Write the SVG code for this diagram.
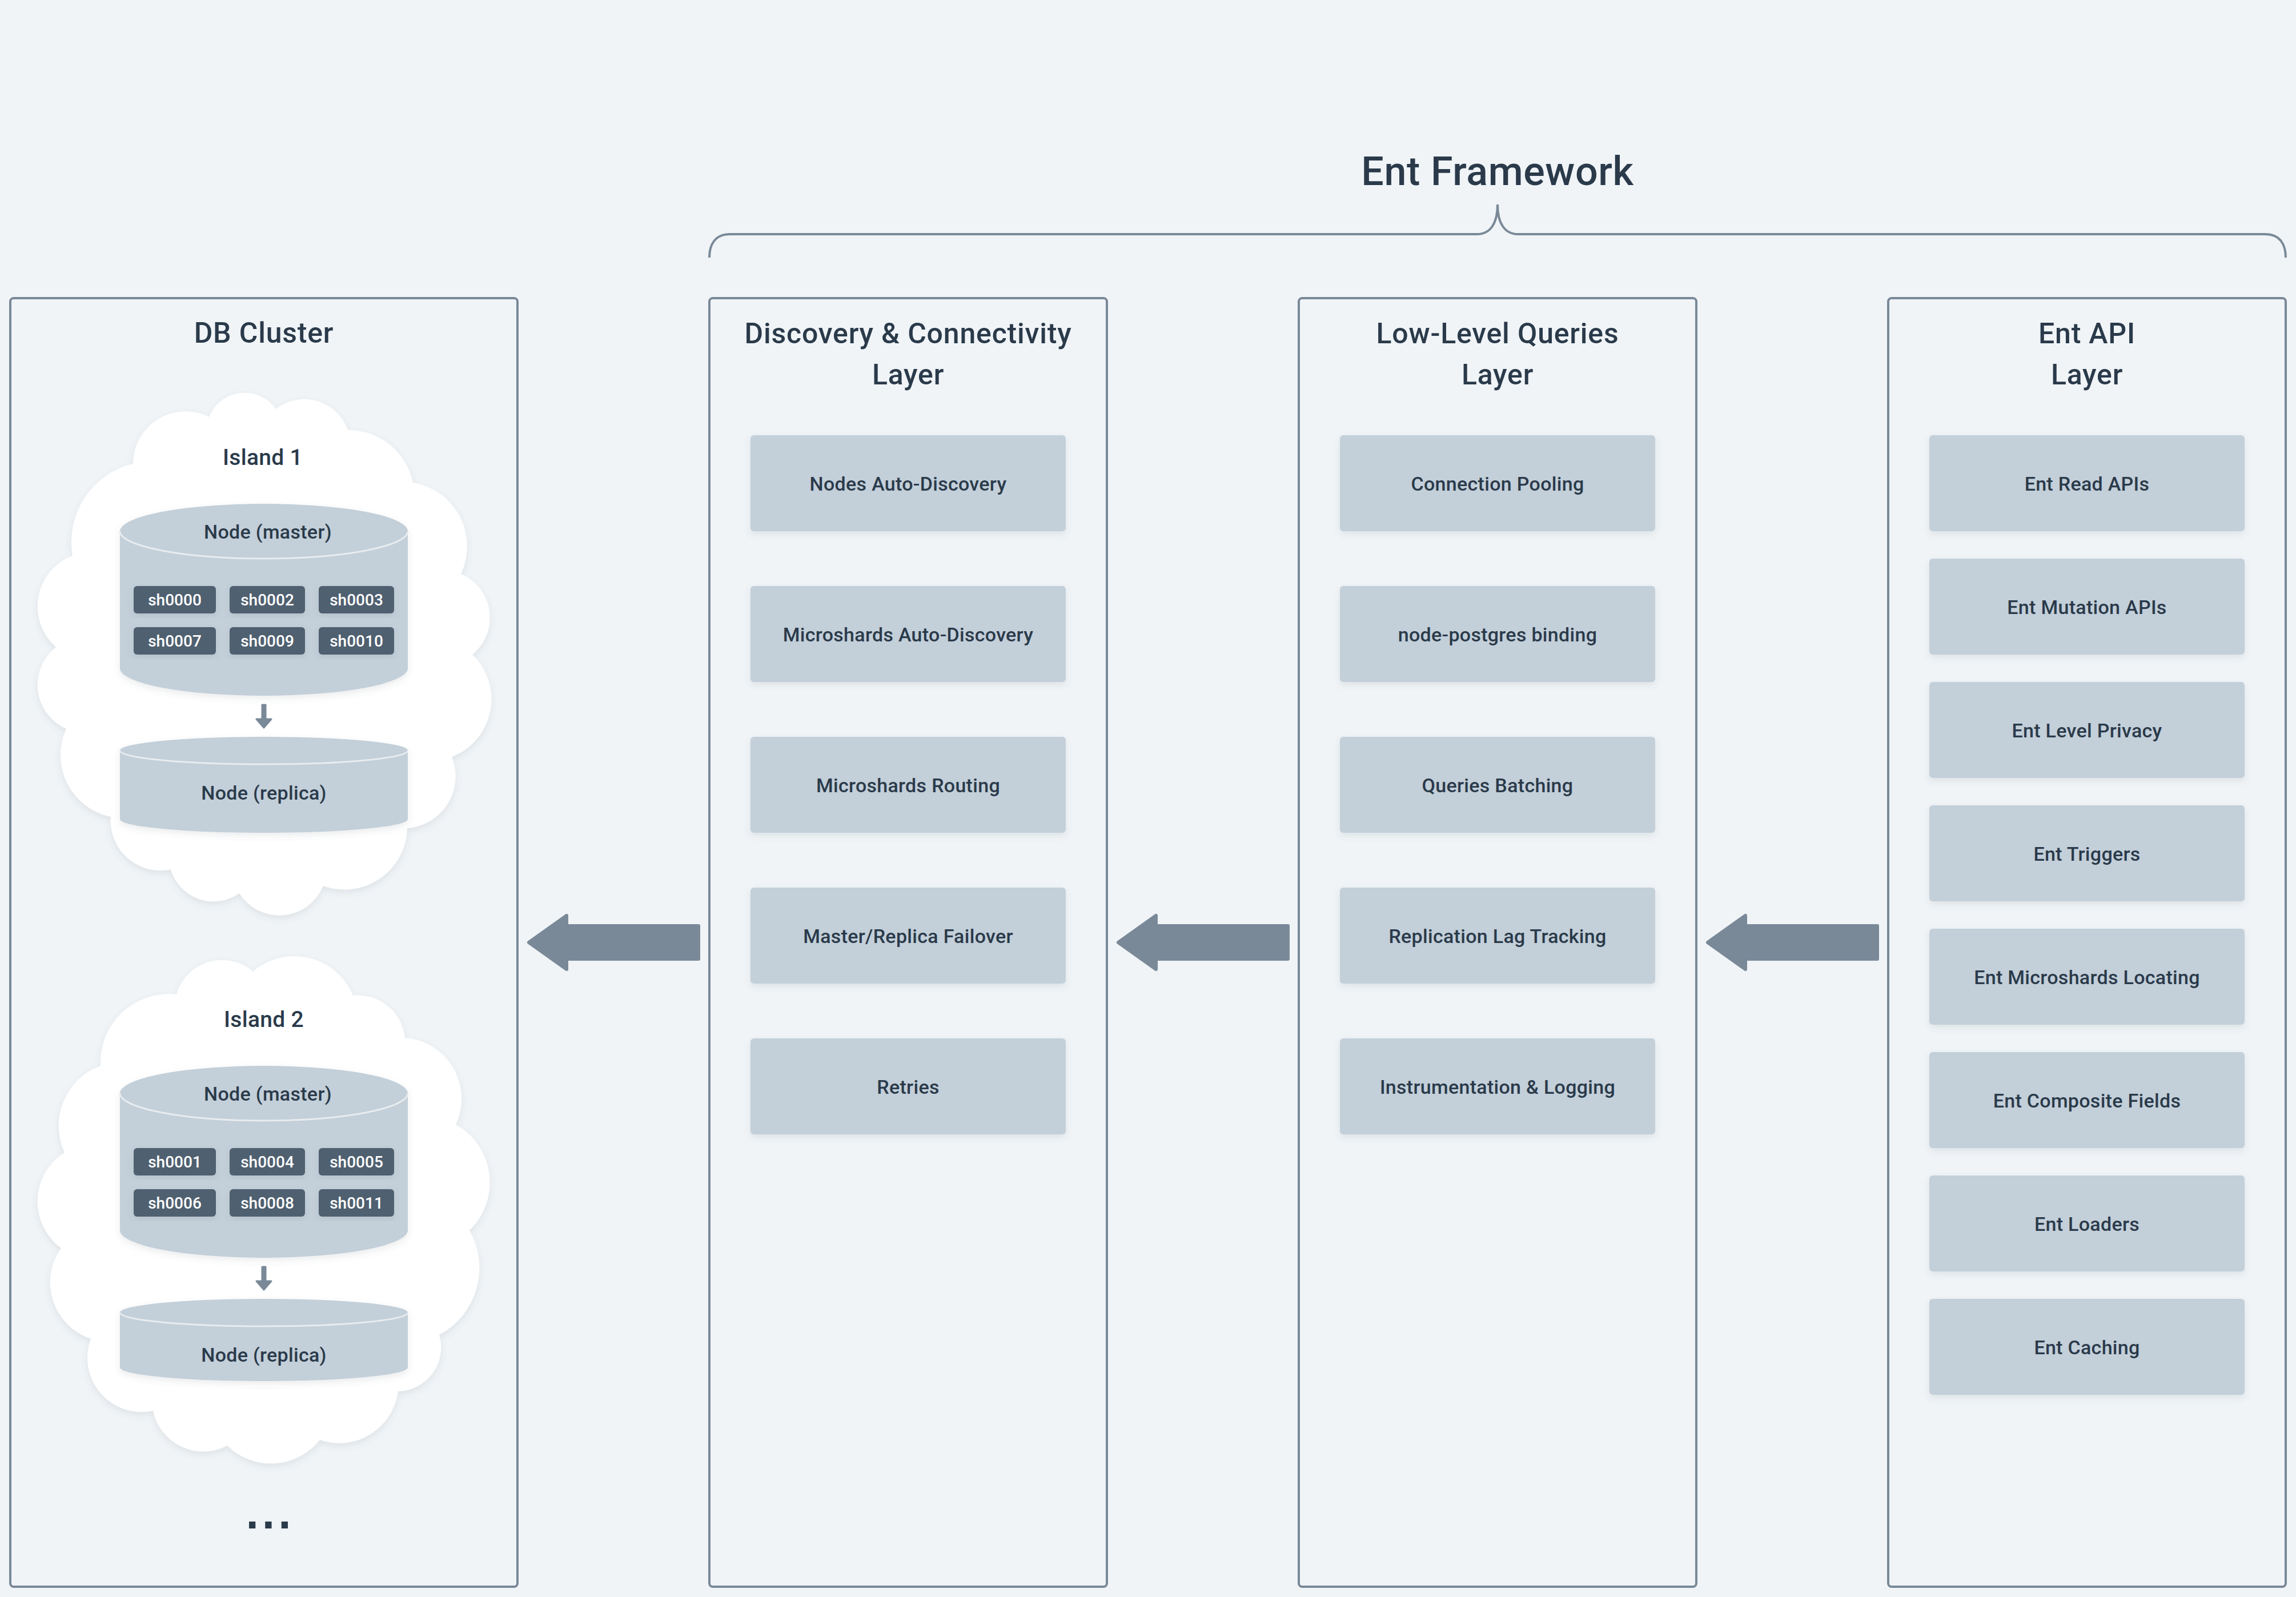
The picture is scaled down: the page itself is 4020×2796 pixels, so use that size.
<svg xmlns="http://www.w3.org/2000/svg" width="4020" height="2796" viewBox="0 0 4020 2796">
<style>
text{font-family:"Roboto","Liberation Sans",sans-serif;font-weight:470;fill:#2a3a4a;text-anchor:middle}
.title{font-size:70px;letter-spacing:.6px;font-weight:500}
.h{font-size:50px;letter-spacing:.8px;font-weight:500}
.i{font-size:39px;letter-spacing:.3px}
.l{font-size:34px;letter-spacing:.3px}
.n{font-size:34px;letter-spacing:.3px}
.c{font-size:28px;fill:#fff;font-weight:500}
.dots{font-family:"DejaVu Sans",sans-serif;font-weight:700;font-size:64px;letter-spacing:4px}
.panel{fill:none;stroke:#7a8998;stroke-width:4}
.box{fill:#c3cfd9;filter:url(#s)}
.chip{fill:#4f6070;filter:url(#s)}
.cyl{fill:#c3cfd9;filter:url(#s)}
.rim{fill:none;stroke:#e8ecef;stroke-width:3}
.cloud{fill:#fff;filter:url(#s)}
.arrow{fill:#7a8998;stroke:#7a8998;stroke-width:6;stroke-linejoin:round}
.small{fill:#7a8998;stroke:#7a8998;stroke-width:3;stroke-linejoin:round}
.brace{fill:none;stroke:#7a8998;stroke-width:4}
</style>
<defs>
<filter id="s" x="-10%" y="-10%" width="120%" height="125%"><feDropShadow dx="0" dy="5" stdDeviation="6" flood-color="#52606d" flood-opacity=".12"/></filter>
</defs>
<rect width="4020" height="2796" fill="#f0f4f7"/>
<g id="framework">
<path class="brace" d="M1242 451C1242 428 1252 410 1278 410L2586 410C2610 410 2622 390 2622 358C2622 390 2634 410 2658 410L3966 410C3992 410 4002 428 4002 451"/>
<text class="title" x="2622" y="324">Ent Framework</text>
</g>
<g id="db-cluster">
<rect class="panel" x="18" y="522" width="888" height="2256" rx="6"/>
<text class="h" x="462" y="600">DB Cluster</text>
<text class="dots" x="472" y="2676">...</text>
</g>
<g id="island-1">
<path class="cloud" d="M366 730A67 67 0 0 1 483 716A81 81 0 0 1 609 753A116 116 0 0 1 723 845A113 113 0 0 1 807 1005A83 83 0 0 1 827 1146A108 108 0 0 1 791 1325A91 91 0 0 1 713 1450A110 110 0 0 1 566 1551A83 83 0 0 1 419 1564A78 78 0 0 1 299 1522A87 87 0 0 1 194 1430A110 110 0 0 1 116 1276A84 84 0 0 1 98 1133A95 95 0 0 1 127 973A141 141 0 0 1 233 812A92 92 0 0 1 366 730Z"/>
<text class="i" x="460" y="814">Island 1</text>
</g>
<g id="island-1-master">
<path class="cyl" d="M210 930A252 48 0 0 1 714 930V1170A252 48 0 0 1 210 1170Z"/>
<path class="rim" d="M210 930A252 48 0 0 0 714 930"/>
<text class="n" x="469" y="943">Node (master)</text>
</g>
<g id="sh0000"><rect class="chip" x="234" y="1026" width="144" height="48" rx="6"/><text class="c" x="306" y="1060">sh0000</text></g>
<g id="sh0002"><rect class="chip" x="402" y="1026" width="132" height="48" rx="6"/><text class="c" x="468" y="1060">sh0002</text></g>
<g id="sh0003"><rect class="chip" x="558" y="1026" width="132" height="48" rx="6"/><text class="c" x="624" y="1060">sh0003</text></g>
<g id="sh0007"><rect class="chip" x="234" y="1098" width="144" height="48" rx="6"/><text class="c" x="306" y="1132">sh0007</text></g>
<g id="sh0009"><rect class="chip" x="402" y="1098" width="132" height="48" rx="6"/><text class="c" x="468" y="1132">sh0009</text></g>
<g id="sh0010"><rect class="chip" x="558" y="1098" width="132" height="48" rx="6"/><text class="c" x="624" y="1132">sh0010</text></g>
<g id="island-1-replica">
<path class="cyl" d="M210 1314A252 24 0 0 1 714 1314V1434A252 24 0 0 1 210 1434Z"/>
<path class="rim" d="M210 1314A252 24 0 0 0 714 1314"/>
<text class="n" x="462" y="1400">Node (replica)</text>
</g>
<g id="island-2">
<path class="cloud" d="M443 1701A111 111 0 0 1 618 1743A83 83 0 0 1 709 1817A107 107 0 0 1 798 1969A116 116 0 0 1 822 2154A133 133 0 0 1 769 2337A77 77 0 0 1 697 2436A104 104 0 0 1 560 2521A109 109 0 0 1 398 2531A90 90 0 0 1 268 2470A95 95 0 0 1 159 2344A104 104 0 0 1 107 2185A101 101 0 0 1 113 2018A112 112 0 0 1 176 1866A120 120 0 0 1 309 1741A83 83 0 0 1 443 1701Z"/>
<text class="i" x="462" y="1798">Island 2</text>
</g>
<g id="island-2-master">
<path class="cyl" d="M210 1914A252 48 0 0 1 714 1914V2154A252 48 0 0 1 210 2154Z"/>
<path class="rim" d="M210 1914A252 48 0 0 0 714 1914"/>
<text class="n" x="469" y="1927">Node (master)</text>
</g>
<g id="sh0001"><rect class="chip" x="234" y="2010" width="144" height="48" rx="6"/><text class="c" x="306" y="2044">sh0001</text></g>
<g id="sh0004"><rect class="chip" x="402" y="2010" width="132" height="48" rx="6"/><text class="c" x="468" y="2044">sh0004</text></g>
<g id="sh0005"><rect class="chip" x="558" y="2010" width="132" height="48" rx="6"/><text class="c" x="624" y="2044">sh0005</text></g>
<g id="sh0006"><rect class="chip" x="234" y="2082" width="144" height="48" rx="6"/><text class="c" x="306" y="2116">sh0006</text></g>
<g id="sh0008"><rect class="chip" x="402" y="2082" width="132" height="48" rx="6"/><text class="c" x="468" y="2116">sh0008</text></g>
<g id="sh0011"><rect class="chip" x="558" y="2082" width="132" height="48" rx="6"/><text class="c" x="624" y="2116">sh0011</text></g>
<g id="island-2-replica">
<path class="cyl" d="M210 2298A252 24 0 0 1 714 2298V2394A252 24 0 0 1 210 2394Z"/>
<path class="rim" d="M210 2298A252 24 0 0 0 714 2298"/>
<text class="n" x="462" y="2384">Node (replica)</text>
</g>
<g id="discovery-layer">
<rect class="panel" x="1242" y="522" width="696" height="2256" rx="6"/>
<text class="h" x="1590" y="601">Discovery &amp; Connectivity</text>
<text class="h" x="1590" y="673">Layer</text>
</g>
<g id="d1"><rect class="box" x="1314" y="762" width="552" height="168" rx="6"/><text class="l" x="1590" y="859">Nodes Auto-Discovery</text></g>
<g id="d2"><rect class="box" x="1314" y="1026" width="552" height="168" rx="6"/><text class="l" x="1590" y="1123">Microshards Auto-Discovery</text></g>
<g id="d3"><rect class="box" x="1314" y="1290" width="552" height="168" rx="6"/><text class="l" x="1590" y="1387">Microshards Routing</text></g>
<g id="d4"><rect class="box" x="1314" y="1554" width="552" height="168" rx="6"/><text class="l" x="1590" y="1651">Master/Replica Failover</text></g>
<g id="d5"><rect class="box" x="1314" y="1818" width="552" height="168" rx="6"/><text class="l" x="1590" y="1915">Retries</text></g>
<g id="lowlevel-layer">
<rect class="panel" x="2274" y="522" width="696" height="2256" rx="6"/>
<text class="h" x="2622" y="601">Low-Level Queries</text>
<text class="h" x="2622" y="673">Layer</text>
</g>
<g id="q1"><rect class="box" x="2346" y="762" width="552" height="168" rx="6"/><text class="l" x="2622" y="859">Connection Pooling</text></g>
<g id="q2"><rect class="box" x="2346" y="1026" width="552" height="168" rx="6"/><text class="l" x="2622" y="1123">node-postgres binding</text></g>
<g id="q3"><rect class="box" x="2346" y="1290" width="552" height="168" rx="6"/><text class="l" x="2622" y="1387">Queries Batching</text></g>
<g id="q4"><rect class="box" x="2346" y="1554" width="552" height="168" rx="6"/><text class="l" x="2622" y="1651">Replication Lag Tracking</text></g>
<g id="q5"><rect class="box" x="2346" y="1818" width="552" height="168" rx="6"/><text class="l" x="2622" y="1915">Instrumentation &amp; Logging</text></g>
<g id="api-layer">
<rect class="panel" x="3306" y="522" width="696" height="2256" rx="6"/>
<text class="h" x="3654" y="601">Ent API</text>
<text class="h" x="3654" y="673">Layer</text>
</g>
<g id="a1"><rect class="box" x="3378" y="762" width="552" height="168" rx="6"/><text class="l" x="3654" y="859">Ent Read APIs</text></g>
<g id="a2"><rect class="box" x="3378" y="978" width="552" height="168" rx="6"/><text class="l" x="3654" y="1075">Ent Mutation APIs</text></g>
<g id="a3"><rect class="box" x="3378" y="1194" width="552" height="168" rx="6"/><text class="l" x="3654" y="1291">Ent Level Privacy</text></g>
<g id="a4"><rect class="box" x="3378" y="1410" width="552" height="168" rx="6"/><text class="l" x="3654" y="1507">Ent Triggers</text></g>
<g id="a5"><rect class="box" x="3378" y="1626" width="552" height="168" rx="6"/><text class="l" x="3654" y="1723">Ent Microshards Locating</text></g>
<g id="a6"><rect class="box" x="3378" y="1842" width="552" height="168" rx="6"/><text class="l" x="3654" y="1939">Ent Composite Fields</text></g>
<g id="a7"><rect class="box" x="3378" y="2058" width="552" height="168" rx="6"/><text class="l" x="3654" y="2155">Ent Loaders</text></g>
<g id="a8"><rect class="box" x="3378" y="2274" width="552" height="168" rx="6"/><text class="l" x="3654" y="2371">Ent Caching</text></g>
<g id="connectors">
<path class="arrow" d="M926 1650L992 1603V1621H1223V1679H992V1697Z"/>
<path class="arrow" d="M1958 1650L2024 1603V1621H2255V1679H2024V1697Z"/>
<path class="arrow" d="M2990 1650L3056 1603V1621H3287V1679H3056V1697Z"/>
<path class="small" d="M459 1234H465V1259H475L462 1274L449 1259H459Z"/>
<path class="small" d="M459 2218H465V2243H475L462 2258L449 2243H459Z"/>
</g>
</svg>
